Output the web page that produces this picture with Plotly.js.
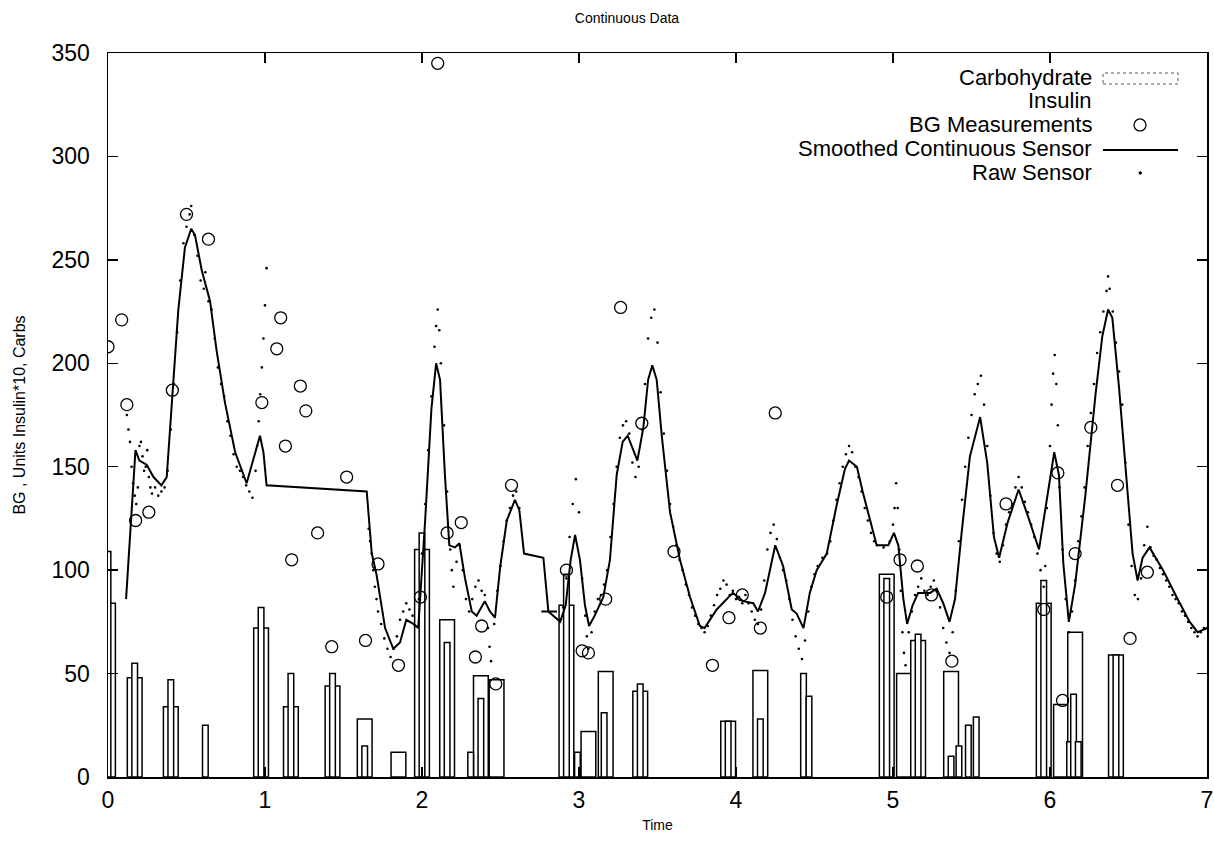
<!DOCTYPE html>
<html>
<head>
<meta charset="utf-8">
<script src="https://cdn.plot.ly/plotly-3.0.1.min.js"></script>
<style>html,body{margin:0;padding:0;background:#fff;}#chart{width:1214px;height:846px;}</style>
</head>
<body>
<div id="chart"></div>
<script>
// Carbohydrate (wide bars)
const carbT = [0.0,0.17,0.40,0.975,1.165,1.43,1.635,1.85,2.0,2.16,2.375,2.475,2.92,3.06,3.17,3.39,3.95,4.155,4.96,5.07,5.16,5.37,5.96,6.07,6.16,6.42];
const carbV = [84,48,34,72,34,44,28,12,110,76,49,47,83,22,51,41.5,27,51.5,98,50,66,51,84,35,70,59];
// Insulin*10 (narrow bars)
const insT = [0.0,0.17,0.40,0.62,0.975,1.165,1.43,1.635,2.0,2.16,2.31,2.375,2.92,2.99,3.16,3.39,3.95,4.155,4.43,4.465,4.96,5.16,5.37,5.42,5.48,5.53,5.96,6.125,6.15,6.18,6.42];
const insV = [109,55,47,25,82,50,50,15,118,65,12,38,98,12,31,45,27,28,50,39,96,69,10,15,25,29,95,17,40,17,59];
// BG measurements
const bgT = [0.0,0.087,0.12,0.176,0.26,0.41,0.50,0.64,0.98,1.075,1.10,1.13,1.17,1.225,1.26,1.335,1.425,1.52,1.64,1.72,1.85,1.99,2.10,2.16,2.25,2.34,2.38,2.47,2.57,2.92,3.02,3.06,3.17,3.265,3.40,3.605,3.85,3.955,4.04,4.155,4.25,4.96,5.045,5.155,5.245,5.375,5.72,5.96,6.05,6.08,6.16,6.26,6.43,6.51,6.62];
const bgV = [208,221,180,124,128,187,272,260,181,207,222,160,105,189,177,118,63,145,66,103,54,87,345,118,123,58,73,45,141,100,61,60,86,227,171,109,54,77,88,72,176,87,105,102,88,56,132,81,147,37,108,169,141,67,99];
// Smoothed continuous sensor
const smT = [0.115,0.172,0.175,0.20,0.246,0.29,0.34,0.374,0.41,0.448,0.49,0.53,0.554,0.597,0.65,0.692,0.745,0.81,0.883,0.936,0.968,0.99,1.01,1.648,1.68,1.71,1.765,1.817,1.86,1.90,1.945,1.976,2.02,2.06,2.09,2.115,2.146,2.174,2.21,2.238,2.274,2.317,2.348,2.40,2.433,2.465,2.497,2.54,2.592,2.62,2.65,2.773,2.805,2.88,2.915,2.947,2.975,3.006,3.038,3.064,3.10,3.155,3.197,3.24,3.278,3.31,3.346,3.372,3.41,3.44,3.467,3.495,3.527,3.58,3.643,3.707,3.77,3.80,3.877,3.98,4.046,4.11,4.14,4.185,4.25,4.30,4.355,4.386,4.43,4.47,4.514,4.578,4.64,4.694,4.72,4.77,4.81,4.854,4.896,4.97,5.006,5.034,5.066,5.09,5.125,5.16,5.236,5.278,5.32,5.36,5.395,5.437,5.49,5.555,5.60,5.643,5.676,5.73,5.80,5.86,5.93,6.027,6.057,6.085,6.12,6.16,6.225,6.29,6.333,6.37,6.397,6.44,6.483,6.526,6.558,6.59,6.634,6.72,6.806,6.89,6.94,7.0,null,2.76,2.86];
const smV = [86,157,158,153,151,145,141,145,183,226,256,265,262,245,230,206,181,157,142,157,165,157,141,138,108,98,72,62,65,76,74,72,124,178,200,192,146,112,111,113,96,80,78,85,80,77,101,124,134,129,108,106,80,75,83,105,117,105,83,73,78,87,105,146,162,165,158,153,169,192,199,192,165,128,105,87,73,72,81,89,85,84,80,89,112,102,81,79,72,89,100,108,131,149,153,150,137,124,112,112,118,112,86,74,83,89,89,91,84,75,86,118,155,174,152,116,106,123,139,126,110,157,146,103,75,93,136,185,213,226,222,188,149,108,95,106,111,100,87,75,70,72,null,80,80];
// Raw sensor
const rawT = [0.12,0.13,0.14,0.15,0.16,0.17,0.18,0.19,0.20,0.21,0.22,0.23,0.24,0.25,0.26,0.27,0.28,0.30,0.32,0.34,0.36,0.38,0.40,0.42,0.44,0.46,0.48,0.50,0.52,0.53,0.55,0.57,0.59,0.61,0.62,0.64,0.66,0.68,0.70,0.72,0.74,0.76,0.78,0.80,0.82,0.84,0.86,0.88,0.90,0.92,0.94,0.95,0.96,0.97,0.98,0.99,1.00,1.01,1.66,1.67,1.68,1.69,1.70,1.71,1.72,1.74,1.76,1.78,1.80,1.82,1.84,1.86,1.88,1.90,1.92,1.94,1.96,1.98,2.00,2.02,2.04,2.06,2.08,2.09,2.10,2.11,2.12,2.14,2.16,2.18,2.19,2.20,2.22,2.24,2.26,2.28,2.30,2.32,2.34,2.36,2.38,2.40,2.42,2.43,2.44,2.46,2.48,2.50,2.52,2.54,2.56,2.58,2.60,2.62,2.88,2.90,2.92,2.94,2.96,2.98,3.00,3.02,3.04,3.05,3.06,3.08,3.10,3.12,3.14,3.16,3.18,3.20,3.22,3.24,3.26,3.28,3.30,3.32,3.34,3.36,3.38,3.40,3.42,3.44,3.46,3.48,3.50,3.52,3.54,3.56,3.58,3.60,3.62,3.64,3.66,3.68,3.70,3.72,3.74,3.76,3.78,3.80,3.82,3.84,3.86,3.88,3.90,3.92,3.94,3.96,3.98,4.00,4.02,4.04,4.06,4.08,4.10,4.12,4.14,4.16,4.18,4.20,4.22,4.24,4.26,4.28,4.30,4.32,4.34,4.36,4.38,4.40,4.42,4.44,4.46,4.48,4.50,4.52,4.55,4.58,4.60,4.62,4.64,4.66,4.68,4.70,4.72,4.74,4.76,4.78,4.80,4.82,4.84,4.86,4.88,4.90,4.94,4.98,5.00,5.01,5.02,5.03,5.04,5.05,5.06,5.07,5.08,5.10,5.12,5.14,5.16,5.18,5.20,5.22,5.24,5.26,5.28,5.30,5.32,5.34,5.36,5.38,5.40,5.42,5.44,5.46,5.48,5.50,5.52,5.54,5.56,5.58,5.60,5.62,5.64,5.66,5.68,5.70,5.72,5.74,5.76,5.78,5.80,5.82,5.84,5.86,5.88,5.90,5.92,5.94,5.96,5.97,5.98,6.00,6.01,6.02,6.03,6.04,6.05,6.06,6.08,6.10,6.12,6.14,6.16,6.18,6.20,6.22,6.24,6.26,6.28,6.30,6.32,6.34,6.36,6.37,6.38,6.40,6.42,6.44,6.46,6.48,6.50,6.52,6.54,6.56,6.58,6.60,6.62,6.64,6.66,6.68,6.70,6.72,6.74,6.76,6.78,6.80,6.82,6.84,6.86,6.88,6.90,6.92,6.94,6.96,6.98,7.00];
const rawV = [175,168,162,150,142,136,132,140,160,162,155,148,150,158,145,140,137,140,136,138,140,148,168,190,215,240,258,266,272,276,262,252,240,236,244,230,226,212,198,190,184,172,165,156,150,148,145,141,138,135,148,160,172,185,198,212,228,246,120,114,108,100,92,86,80,74,67,62,58,62,68,76,80,84,81,78,73,86,108,132,158,184,208,218,226,216,200,170,138,110,100,92,104,112,100,86,80,86,92,95,90,88,72,63,56,74,90,102,114,124,130,136,138,130,76,82,96,116,132,144,128,96,78,68,62,70,80,86,88,93,100,116,132,150,164,170,172,166,152,145,150,168,190,212,222,226,210,186,166,148,132,121,112,105,100,93,88,82,78,74,72,70,73,78,83,88,91,95,93,88,90,86,87,84,88,84,80,76,74,81,95,110,118,122,115,106,100,95,86,76,68,62,57,66,80,92,98,102,106,108,114,124,134,142,150,156,160,157,150,145,138,130,124,118,114,112,111,114,122,130,142,130,110,90,70,60,54,70,80,88,92,96,90,88,92,95,90,82,72,65,60,70,90,114,134,150,164,175,185,190,194,180,160,136,118,108,104,112,122,128,132,140,145,140,133,128,122,116,108,100,92,102,130,160,180,195,204,190,170,140,110,86,70,80,95,114,126,140,160,176,190,205,215,225,235,242,236,225,210,196,180,152,122,102,88,86,96,112,121,111,107,105,101,98,95,92,88,86,84,80,78,75,72,70,68,70,72,72];

// legend rows (text labels)
const legendLabels = ['Carbohydrate','Insulin','BG Measurements','Smoothed Continuous Sensor','Raw Sensor'];

// plot area in pixels, for placing the gnuplot-style key
const L = 108, R = 1207, T = 53, B = 777.5;
const px = x => (x - L) / (R - L);
const py = y => (B - y) / (B - T);
const rowY = [78, 101, 125, 149, 173];

const traces = [
  {type:'bar', name:'Carbohydrate', x:carbT, y:carbV, width:0.094,
   marker:{color:'white', line:{color:'black', width:1.5}}, showlegend:false, hoverinfo:'x+y'},
  {type:'bar', name:'Insulin', x:insT, y:insV, width:0.036,
   marker:{color:'white', line:{color:'black', width:1.5}}, showlegend:false, hoverinfo:'x+y'},
  {type:'scatter', mode:'markers', name:'Raw Sensor', x:rawT, y:rawV,
   marker:{color:'black', size:2.6}, showlegend:false},
  {type:'scatter', mode:'lines', name:'Smoothed Continuous Sensor', x:smT, y:smV,
   line:{color:'black', width:2}, connectgaps:false, showlegend:false},
  {type:'scatter', mode:'markers', name:'BG Measurements', x:bgT, y:bgV,
   marker:{symbol:'circle-open', color:'black', size:12, line:{width:1.3, color:'black'}}, showlegend:false}
];

const annotations = legendLabels.map((t, i) => ({
  text: t, xref:'paper', yref:'paper', x: px(1093), y: py(rowY[i]),
  xanchor:'right', yanchor:'middle', showarrow:false, borderpad:0,
  font:{size:22, color:'black', family:'Liberation Sans, Arial, sans-serif'}
}));

const shapes = [
  {type:'rect', xref:'paper', yref:'paper', x0:px(1103), x1:px(1178), y0:py(84), y1:py(73),
   line:{color:'#555', width:1, dash:'dot'}, fillcolor:'white'},
  {type:'circle', xref:'paper', yref:'paper', x0:px(1134), x1:px(1146), y0:py(131), y1:py(119),
   line:{color:'black', width:1.3}},
  {type:'line', xref:'paper', yref:'paper', x0:px(1103), x1:px(1178), y0:py(150), y1:py(150),
   line:{color:'black', width:2}},
  {type:'circle', xref:'paper', yref:'paper', x0:px(1139), x1:px(1141.5), y0:py(174.3), y1:py(171.8),
   line:{color:'black', width:1}, fillcolor:'black'}
];

const axisCommon = {
  showgrid:false, zeroline:false, showline:true, linecolor:'black', linewidth:1.5,
  mirror:'ticks', ticks:'inside', ticklen:10, tickwidth:1.5, tickcolor:'black',
  tickfont:{size:23, color:'black'}, ticklabeloverflow:'allow'
};

const layout = {
  width:1214, height:846,
  margin:{l:L, r:1214-R, t:T, b:846-B, pad:0},
  paper_bgcolor:'white', plot_bgcolor:'white',
  font:{family:'Liberation Sans, Arial, sans-serif', color:'black'},
  title:{text:'Continuous Data', font:{size:14, color:'black'},
         xref:'container', yref:'container', x:627/1214, xanchor:'center', y:1-18/846, yanchor:'middle'},
  barmode:'overlay',
  xaxis:Object.assign({}, axisCommon, {range:[0,7], tick0:0, dtick:1, ticklabelstandoff:2,
         title:{text:'Time', font:{size:14}, standoff:8}}),
  yaxis:Object.assign({}, axisCommon, {range:[0,350], tick0:0, dtick:50, ticklabelstandoff:12,
         title:{text:'BG , Units Insulin*10, Carbs', font:{size:16}, standoff:22}}),
  annotations:annotations,
  shapes:shapes,
  showlegend:false
};

Plotly.newPlot('chart', traces, layout, {displayModeBar:false, staticPlot:true});
</script>
</body>
</html>
